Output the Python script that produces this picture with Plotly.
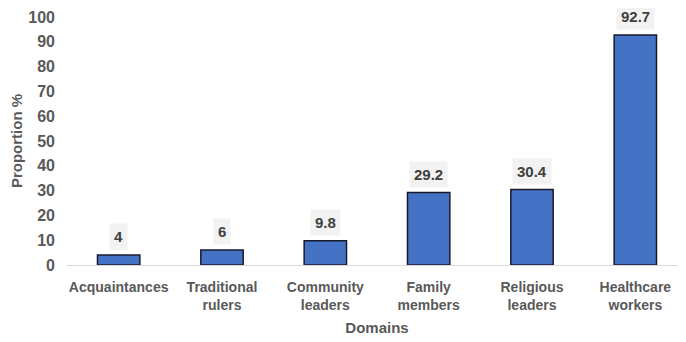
import plotly.graph_objects as go

categories = ["Acquaintances", "Traditional<br>rulers", "Community<br>leaders", "Family<br>members", "Religious<br>leaders", "Healthcare<br>workers"]
values = [4, 6, 9.8, 29.2, 30.4, 92.7]
labels = ["4", "6", "9.8", "29.2", "30.4", "92.7"]
y_ticks = list(range(0, 101, 10))

FONT = "Liberation Sans"
GREY = "#595959"

fig = go.Figure()
fig.add_trace(go.Bar(
    x=categories, y=values,
    marker=dict(color="#4472C4", line=dict(color="#1a1a2e", width=1.5)),
    width=0.41,
))

for c, v, t in zip(categories, values, labels):
    fig.add_annotation(
        x=c, y=v, text=t, showarrow=False, yanchor="bottom", yshift=5,
        font=dict(family=FONT, size=15, color="#404040", weight="bold"),
        bgcolor="#f2f2f2", borderpad=4,
    )

# page body has an 8px margin; margins compensate so the plot lands where the reference has it
fig.update_layout(
    width=686, height=342,
    margin=dict(l=59, r=7, t=9, b=85),
    plot_bgcolor="white", paper_bgcolor="white",
    showlegend=False,
    font=dict(family=FONT, color=GREY, size=14, weight="bold"),
    xaxis=dict(
        showgrid=False, showline=True, linecolor="#d9d9d9", linewidth=1,
        ticks="", ticklabelstandoff=9,
        tickfont=dict(family=FONT, size=14, color=GREY, weight="bold"),
        title=dict(text="Domains", font=dict(family=FONT, size=15, color=GREY, weight="bold"), standoff=10),
        automargin=False,
    ),
    yaxis=dict(
        range=[0, 100], tickvals=y_ticks, showgrid=False, zeroline=False,
        ticks="", showline=False, ticklabelstandoff=11,
        tickfont=dict(family=FONT, size=16, color=GREY, weight="bold"),
        title=dict(text="Proportion %", font=dict(family=FONT, size=15, color=GREY, weight="bold"), standoff=3),
        automargin=False,
    ),
)

fig.write_html("out.html")
